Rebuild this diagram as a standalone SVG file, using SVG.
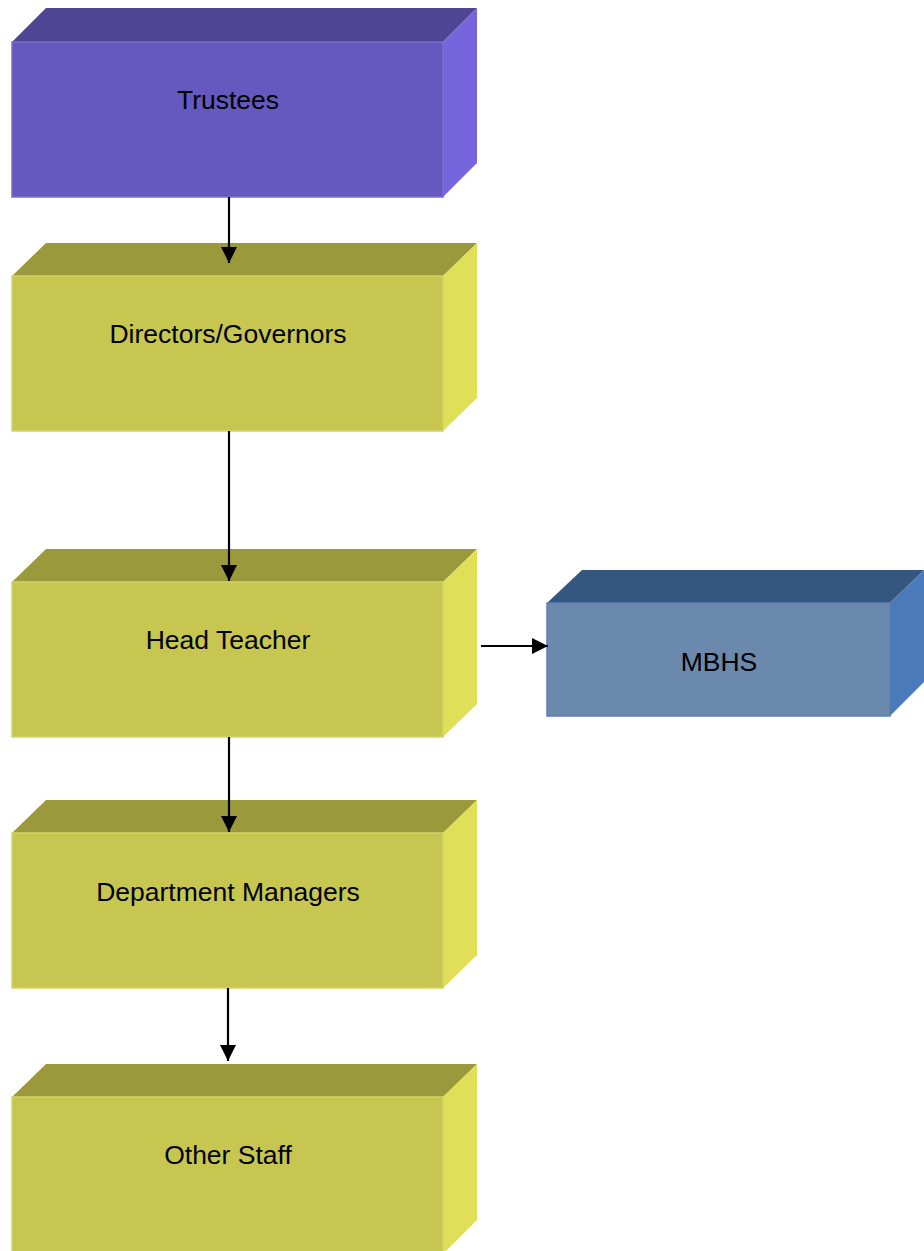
<svg xmlns="http://www.w3.org/2000/svg" width="924" height="1251" viewBox="0 0 924 1251">
<defs>
<style>
.t{font-family:"Liberation Sans",Arial,sans-serif;font-size:26.5px;fill:#000;text-anchor:middle}
.pf{fill:#6558BE;stroke:#7A6FD0;stroke-width:1.5}
.pt{fill:#4E4692}
.pr{fill:#7566DD}
.yf{fill:#C6C650;stroke:#D4D468;stroke-width:1.5}
.yt{fill:#9A9A3C}
.yr{fill:#E0E058}
.bf{fill:#6B88AD;stroke:#5C7FB8;stroke-width:1.5}
.bt{fill:#34567F}
.br{fill:#4A7ABA}
.c{stroke:#000;stroke-width:2.2;fill:none}
</style>
<marker id="ah" viewBox="0 0 10 10" refX="10" refY="5" markerWidth="7.3" markerHeight="7.3" markerUnits="strokeWidth" orient="auto">
<path d="M0,0 L10,5 L0,10 Z" fill="#000"/>
</marker>
</defs>
<g id="trustees">
<polygon class="pt" points="12,42 46,8 477,8 443,42"/>
<polygon class="pr" points="443,42 477,8 477,163 443,197"/>
<rect class="pf" x="12" y="42" width="431" height="155"/>
<text class="t" x="228" y="109">Trustees</text>
</g>
<g id="directors">
<polygon class="yt" points="12,276 46,243 477,243 443,276"/>
<polygon class="yr" points="443,276 477,243 477,398 443,431"/>
<rect class="yf" x="12" y="276" width="431" height="155"/>
<text class="t" x="228" y="343">Directors/Governors</text>
</g>
<g id="headteacher">
<polygon class="yt" points="12,582 46,549 477,549 443,582"/>
<polygon class="yr" points="443,582 477,549 477,704 443,737"/>
<rect class="yf" x="12" y="582" width="431" height="155"/>
<text class="t" x="228" y="649">Head Teacher</text>
</g>
<g id="mbhs">
<polygon class="bt" points="547,603 582,570 924,570 890,603"/>
<polygon class="br" points="890,603 924,570 924,682 890,716"/>
<rect class="bf" x="547" y="603" width="343" height="113"/>
<text class="t" x="719" y="671">MBHS</text>
</g>
<g id="deptmanagers">
<polygon class="yt" points="12,833 46,800 477,800 443,833"/>
<polygon class="yr" points="443,833 477,800 477,955 443,988"/>
<rect class="yf" x="12" y="833" width="431" height="155"/>
<text class="t" x="228" y="901">Department Managers</text>
</g>
<g id="otherstaff">
<polygon class="yt" points="12,1097 46,1064 477,1064 443,1097"/>
<polygon class="yr" points="443,1097 477,1064 477,1220 443,1254"/>
<rect class="yf" x="12" y="1097" width="431" height="157"/>
<text class="t" x="228" y="1164">Other Staff</text>
</g>
<g id="connectors">
<line class="c" x1="229" y1="197" x2="229" y2="263" marker-end="url(#ah)"/>
<line class="c" x1="229" y1="431" x2="229" y2="581" marker-end="url(#ah)"/>
<line class="c" x1="229" y1="737" x2="229" y2="832" marker-end="url(#ah)"/>
<line class="c" x1="228" y1="988" x2="228" y2="1061" marker-end="url(#ah)"/>
<line class="c" x1="481" y1="646" x2="548" y2="646" marker-end="url(#ah)"/>
</g>
</svg>
